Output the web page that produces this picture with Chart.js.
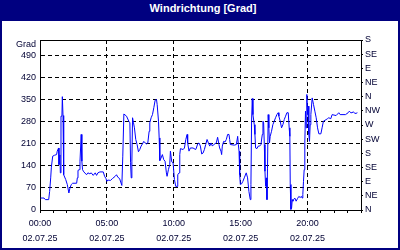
<!DOCTYPE html>
<html>
<head>
<meta charset="utf-8">
<script src="https://cdn.jsdelivr.net/npm/chart.js@4.4.0/dist/chart.umd.min.js"></script>
<style>
  body { margin: 0; background: #fff; }
  #wrap { position: relative; width: 400px; height: 250px; overflow: hidden; }
  #chart { position: absolute; left: 0; top: 0; }
  #head {
    position: absolute; left: 0; top: 0; width: 400px; height: 21px;
    background: #000080; color: #fff; text-align: center;
    font: bold 11px 'Liberation Sans', Arial, sans-serif; line-height: 17px;
    box-sizing: border-box; padding-left: 6px;
  }
  #frame {
    position: absolute; left: 0; top: 0; width: 400px; height: 250px;
    border: 2px solid #000080; box-sizing: border-box; pointer-events: none;
  }
</style>
</head>
<body>
<div id="wrap">
  <canvas id="chart" width="400" height="250"></canvas>
  <div id="head">Windrichtung [Grad]</div>
  <div id="frame"></div>
</div>
<script>
// Data (hours since 00:00, direction in degrees)
const hours = [
  0.05, 0.30, 0.40, 0.65, 0.72, 0.80, 0.85, 0.95, 1.09, 1.24, 1.29, 1.39, 1.42, 1.49, 1.52, 1.57,
  1.64, 1.67, 1.72, 1.77, 1.92, 2.04, 2.16, 2.24, 2.34, 2.44, 2.74, 2.79, 2.84, 2.94, 2.99, 3.08,
  3.13, 3.18, 3.28, 3.48, 3.58, 3.73, 3.83, 3.98, 4.13, 4.23, 4.33, 4.48, 4.73, 4.83, 4.93, 5.00,
  5.07, 5.27, 5.42, 5.62, 5.72, 5.82, 5.95, 6.12,
  6.19, 6.27, 6.47, 6.64, 6.72, 6.77, 6.82, 6.87, 6.92, 6.99, 7.06, 7.16, 7.26, 7.36, 7.46, 7.56,
  7.66, 7.76, 7.86, 7.96, 8.06, 8.16, 8.21, 8.31, 8.41, 8.51, 8.61, 8.71, 8.76, 8.86, 8.91, 8.96,
  9.05, 9.15, 9.25, 9.35, 9.45, 9.50, 9.60, 9.70, 9.75, 9.85, 9.95, 10.05, 10.15, 10.25, 10.30,
  10.40, 10.45, 10.50, 10.70, 10.80, 10.90, 11.00, 11.04, 11.14, 11.24, 11.44, 11.64, 11.69,
  11.79, 11.89,
  11.99, 12.09, 12.19, 12.29, 12.39, 12.49, 12.59, 12.69, 12.79, 12.89, 12.99, 13.18, 13.28,
  13.38, 13.43, 13.53, 13.58, 13.63, 13.73, 13.83, 13.93, 14.03, 14.13, 14.18, 14.23, 14.53,
  14.68, 14.78, 14.83, 14.88, 14.93, 14.98, 15.07, 15.17, 15.27, 15.42, 15.52, 15.62, 15.72,
  15.77, 15.82, 15.87, 15.92, 16.02, 16.07, 16.12, 16.22, 16.32, 16.42, 16.52, 16.62, 16.67,
  16.72, 16.77, 16.82, 16.87, 16.92, 16.97, 17.01, 17.06, 17.11, 17.16, 17.21, 17.31, 17.41,
  17.51, 17.61, 17.71, 17.81,
  17.86, 17.96, 18.06, 18.16, 18.26, 18.36, 18.46, 18.56, 18.63, 18.68, 18.71, 18.76, 18.81,
  18.86, 18.91, 18.96, 19.05, 19.15, 19.25, 19.35, 19.45, 19.55, 19.60, 19.65, 19.70, 19.75,
  19.80, 19.85, 19.90, 19.95, 20.00, 20.05, 20.10, 20.15, 20.20, 20.25, 20.35, 20.40, 20.45,
  20.55, 20.65, 20.75, 20.85, 21.00, 21.09, 21.19, 21.39, 21.49, 21.59, 21.74, 21.84, 22.14,
  22.34, 22.44, 22.84, 23.04, 23.13, 23.23, 23.33, 23.43, 23.53, 23.63, 23.73
];
const degrees = [
  38, 38, 33, 33, 59, 102, 136, 171, 174, 176, 187, 197, 144, 175, 118, 298,
  298, 360, 300, 112, 97, 81, 54, 70, 81, 85, 85, 102, 126, 128, 155, 240,
  155, 128, 121, 112, 118, 115, 118, 110, 118, 110, 118, 121, 121, 107, 100, 91,
  95, 94, 100, 107, 112, 104, 100, 78,
  171, 305, 298, 282, 277, 150, 102, 155, 293, 277, 261, 224, 208, 185, 192, 203,
  210, 218, 213, 210, 213, 250, 277, 293, 303, 325, 349, 351, 335, 282, 229, 157,
  165, 176, 160, 155, 118, 107, 128, 144, 187, 153, 150, 97, 75, 75, 112,
  118, 176, 195, 192, 197, 224, 240, 213, 187, 197, 197, 192, 197,
  210, 213,
  203, 178, 181, 192, 208, 224, 213, 203, 213, 203, 208, 213, 231,
  208, 197, 187, 176, 203, 218, 216, 224, 240, 240, 224, 208, 206,
  208, 234, 208, 187, 112, 81, 83, 91, 102, 118, 102, 59, 33,
  81, 282, 354, 303, 271, 240, 197, 195, 203, 203, 208, 240, 282,
  277, 208, 123, 75, 102, 33, 133, 303, 261, 213, 234, 250, 271,
  282, 293, 303, 309,
  298, 282, 261, 271, 287, 298, 309, 309, 261, 234, 81, 2, 6,
  33, 28, 33, 38, 28, 36, 43, 40, 43, 38, 49, 91, 128,
  213, 314, 261, 367, 303, 330, 240, 218, 271, 303, 356, 356, 335,
  314, 293, 261, 242, 242, 261, 282, 287, 290, 293, 290, 303, 300,
  309, 303, 303, 309, 314, 309, 309, 312, 307, 307, 309
];

// Axis labels
const gradTicks = [0, 70, 140, 210, 280, 350, 420, 490];
const dirLabels = ['N', 'NE', 'E', 'SE', 'S', 'SW', 'W', 'NW', 'N', 'NE', 'E', 'SE', 'S'];
const timeLabels = ['00:00', '05:00', '10:00', '15:00', '20:00'];
const dateLabel = '02.07.25';

Chart.defaults.font.family = "'Liberation Sans', Arial, sans-serif";
Chart.defaults.font.size = 9;
Chart.defaults.color = '#000033';

// top edge of the plot box
const frameTop = {
  id: 'frameTop',
  afterDraw(chart) {
    const { ctx, chartArea } = chart;
    const y = Math.round(chartArea.top) + 0.5;
    ctx.save();
    ctx.strokeStyle = '#000';
    ctx.lineWidth = 1;
    ctx.beginPath();
    ctx.moveTo(chartArea.left, y);
    ctx.lineTo(chartArea.right + 1, y);
    ctx.stroke();
    ctx.restore();
  }
};

const ctx = document.getElementById('chart').getContext('2d');
new Chart(ctx, {
  type: 'line',
  data: {
    datasets: [{
      data: hours.map((h, i) => ({ x: h, y: degrees[i] })),
      borderColor: '#0000ff',
      borderWidth: 1,
      pointRadius: 0,
      tension: 0,
      fill: false
    }]
  },
  options: {
    responsive: false,
    animation: false,
    devicePixelRatio: 1,
    layout: { padding: { top: 40, left: 0, right: 0, bottom: 0 } },
    plugins: {
      legend: { display: false },
      tooltip: { enabled: false }
    },
    scales: {
      x: {
        type: 'linear',
        min: 0,
        max: 24,
        afterFit: s => { s.height = 40; },
        ticks: {
          stepSize: 1,
          autoSkip: false,
          maxRotation: 0,
          minRotation: 0,
          padding: 3,
          font: { size: 9, lineHeight: '15px' },
          callback: v => (v % 5 === 0 && v < 24) ? [timeLabels[v / 5], dateLabel] : ''
        },
        grid: {
          color: c => (c.tick && c.tick.value % 5 === 0) ? '#000' : 'transparent',
          tickColor: '#000',
          tickLength: 3
        },
        border: { color: '#000', dash: [4, 3] }
      },
      y: {
        position: 'left',
        min: 0,
        max: 540,
        afterBuildTicks: s => { s.ticks = gradTicks.concat([525]).map(v => ({ value: v })); },
        afterFit: s => { s.width = 40; },
        ticks: {
          padding: 4,
          callback: v => v === 525 ? 'Grad' : v
        },
        grid: {
          color: c => (c.tick && c.tick.value === 525) ? 'transparent' : '#000',
          drawTicks: false
        },
        border: { color: '#000', dash: [4, 3] }
      },
      y2: {
        position: 'right',
        min: 0,
        max: 540,
        afterFit: s => { s.width = 39; },
        ticks: {
          stepSize: 45,
          padding: 2,
          callback: (v, i) => dirLabels[i]
        },
        grid: {
          drawOnChartArea: false,
          tickColor: '#000',
          tickLength: 2
        },
        border: { color: '#000' }
      }
    }
  },
  plugins: [frameTop]
});
</script>
</body>
</html>
